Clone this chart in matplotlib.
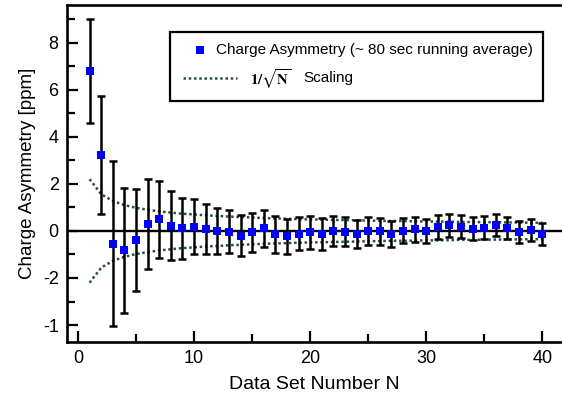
import numpy as np
import matplotlib.pyplot as plt
from matplotlib.patches import Rectangle

plt.rcParams['font.family'] = ['Liberation Sans', 'DejaVu Sans']

# Dados
data_set = list(range(1, 41))
asymmetry = [6.80, 3.22, -0.55, -0.82, -0.40, 0.30, 0.50, 0.23, 0.11, 0.18,
             0.09, 0.00, -0.03, -0.20, -0.06, 0.11, -0.14, -0.23, -0.11, -0.06,
             -0.13, 0.01, -0.03, -0.14, 0.00, -0.02, -0.14, 0.00, 0.07, -0.02,
             0.16, 0.24, 0.18, 0.10, 0.14, 0.26, 0.13, -0.03, 0.04, -0.13]
asym_err = [2.20, 2.50, 3.50, 2.65, 2.17, 1.91, 1.64, 1.47, 1.31, 1.18,
            1.07, 0.98, 0.91, 0.87, 0.83, 0.78, 0.78, 0.74, 0.71, 0.69,
            0.66, 0.64, 0.61, 0.59, 0.58, 0.56, 0.55, 0.53, 0.53, 0.51,
            0.50, 0.50, 0.49, 0.48, 0.48, 0.47, 0.47, 0.47, 0.47, 0.48]
scaling = [2.20, 1.56, 1.27, 1.10, 0.98, 0.90, 0.83, 0.78, 0.73, 0.70,
           0.66, 0.64, 0.61, 0.59, 0.57, 0.55, 0.53, 0.52, 0.50, 0.49,
           0.48, 0.47, 0.46, 0.45, 0.44, 0.43, 0.42, 0.42, 0.41, 0.40,
           0.40, 0.39, 0.38, 0.38, 0.37, 0.37, 0.36, 0.36, 0.35, 0.35]

y_ticks = [8, 6, 4, 2, 0, -2, -4]
y_tick_labels = ['8', '6', '4', '2', '0', '-2', '-1']
x_ticks = [0, 10, 20, 30, 40]

fig = plt.figure(figsize=(5.62, 4.03), dpi=100)
ax = fig.add_axes([67/562, 61/403, 495/562, 337/403])

verde = '#24503f'
ax.axhline(0, color='black', lw=1.7, zorder=1)
ax.plot(data_set, scaling, color=verde, lw=1.8, ls=(0, (1, 1.1)), zorder=2)
ax.plot(data_set, [-s for s in scaling], color=verde, lw=1.8, ls=(0, (1, 1.1)), zorder=2)
ax.errorbar(data_set, asymmetry, yerr=asym_err, fmt='none', ecolor='black',
            elinewidth=1.8, capsize=3, capthick=1.8, zorder=3)
ax.plot(data_set, asymmetry, 's', color='#0000ff', ms=6.3, mew=0, zorder=4)

ax.set_xlim(-0.95, 41.7)
ax.set_ylim(-4.72, 9.6)
ax.set_xticks(x_ticks)
ax.set_xticks([5, 15, 25, 35], minor=True)
ax.set_yticks(y_ticks)
ax.set_yticklabels(y_tick_labels)
ax.set_yticks([9, 7, 5, 3, 1, -1, -3], minor=True)
ax.tick_params(which='major', direction='in', length=8, width=1.6, labelsize=13, pad=6)
ax.tick_params(which='minor', direction='in', length=5.5, width=1.6)
ax.spines['right'].set_visible(False)
for s in ['left', 'bottom', 'top']:
    ax.spines[s].set_linewidth(1.9)

ax.set_xlabel('Data Set Number N', fontsize=14, labelpad=6)
ax.set_ylabel('Charge Asymmetry [ppm]', fontsize=13.5, labelpad=5)

# Legenda desenhada à mão
ax.add_patch(Rectangle((0.208, 0.715), 0.754, 0.205, transform=ax.transAxes,
                       fill=True, facecolor='white', edgecolor='black', lw=1.6, zorder=5))
ax.plot([0.269], [0.866], 's', color='#0000ff', ms=6.3, mew=0, transform=ax.transAxes, zorder=6)
ax.text(0.301, 0.866, 'Charge Asymmetry (~ 80 sec running average)', transform=ax.transAxes,
        fontsize=11, va='center', zorder=6)
ax.plot([0.234, 0.343], [0.783, 0.783], color=verde, lw=1.8, ls=(0, (1, 1.1)),
        transform=ax.transAxes, zorder=6)
ax.text(0.370, 0.781, r'$\mathbf{1/\sqrt{N}}$', transform=ax.transAxes,
        fontsize=10.5, va='center', math_fontfamily='stix', zorder=6)
ax.text(0.478, 0.783, 'Scaling', transform=ax.transAxes, fontsize=11, va='center', zorder=6)

fig.savefig('out.png', dpi=100)
